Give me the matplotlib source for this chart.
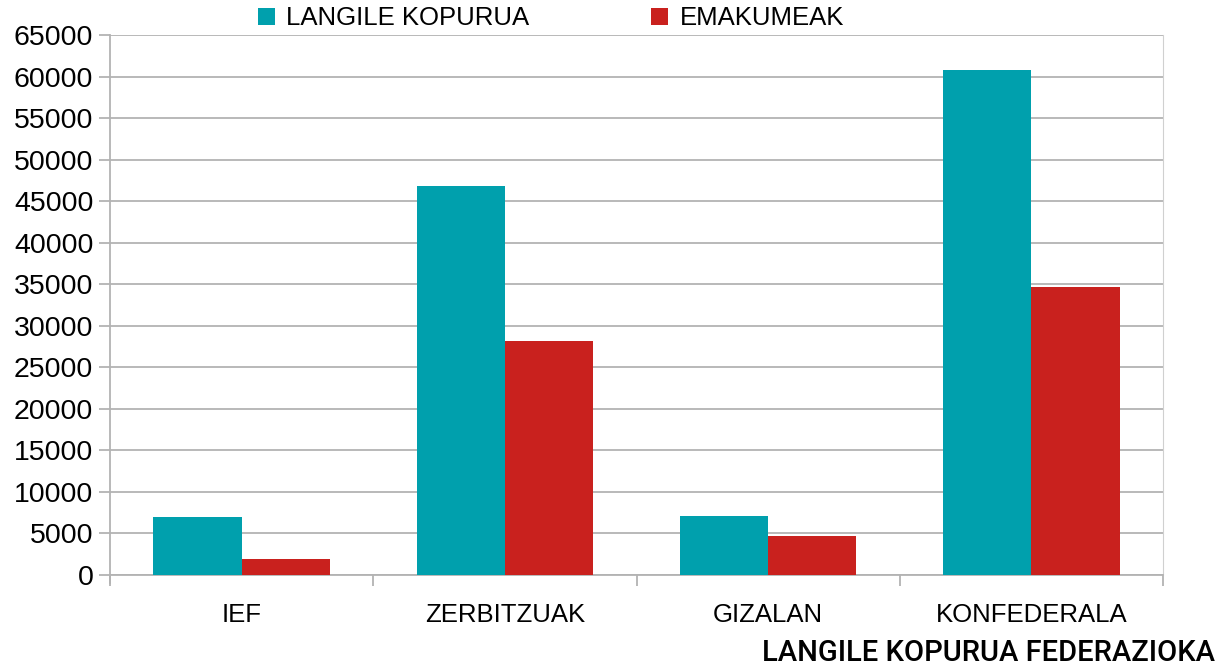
import matplotlib.pyplot as plt
import numpy as np

plt.rcParams['font.family'] = ['Liberation Sans', 'DejaVu Sans']

federazioak = ['IEF', 'ZERBITZUAK', 'GIZALAN', 'KONFEDERALA']
langile_kopurua = [6980, 46800, 7100, 60800]
emakumeak = [1900, 28150, 4700, 34650]

teal = '#00a0ad'
gorria = '#c9211e'
grisa = '#b3b3b3'

fig = plt.figure(figsize=(12.26, 6.68), dpi=100)
ax = fig.add_axes([110/1226, 1 - 575/668, 1053/1226, 540/668])

x = np.arange(len(federazioak))
w = 0.335
ax.bar(x - w/2, langile_kopurua, w, color=teal, label='LANGILE KOPURUA', zorder=3)
ax.bar(x + w/2, emakumeak, w, color=gorria, label='EMAKUMEAK', zorder=3)

ax.set_xlim(-0.5, len(federazioak) - 0.5)
ax.set_ylim(0, 65000)
ax.set_yticks(np.arange(0, 65001, 5000))
ax.set_xticks(x)
ax.set_xticklabels(federazioak)
ax.set_xticks(np.arange(-0.5, len(federazioak), 1), minor=True)
ax.tick_params(axis='x', which='major', length=0, pad=20, labelsize=18.5)
ax.tick_params(axis='x', which='minor', length=8, color=grisa, width=1.3)
ax.tick_params(axis='y', length=8, color=grisa, width=1.3, labelsize=20.5, pad=4)

ax.grid(axis='y', color=grisa, linewidth=1.3, zorder=0)
ax.spines['top'].set_visible(False)
ax.spines['right'].set_color('#d0d0d0')
for s in ['left', 'bottom']:
    ax.spines[s].set_color(grisa)
    ax.spines[s].set_linewidth(1.3)
ax.spines['left'].set_bounds(-1000, 65000)

fig.legend(loc='upper left', bbox_to_anchor=(245/1226, 1.01), ncol=2, frameon=False,
           fontsize=18.5, handlelength=0.65, handleheight=0.65, handletextpad=0.45,
           columnspacing=4.75, borderaxespad=0.1)

fig.text(1215/1226, 1 - 653/668, 'LANGILE KOPURUA FEDERAZIOKA', ha='right', va='center',
         fontsize=21, fontweight='medium', family=['Roboto', 'DejaVu Sans'])

fig.savefig('out.png', dpi=100)
